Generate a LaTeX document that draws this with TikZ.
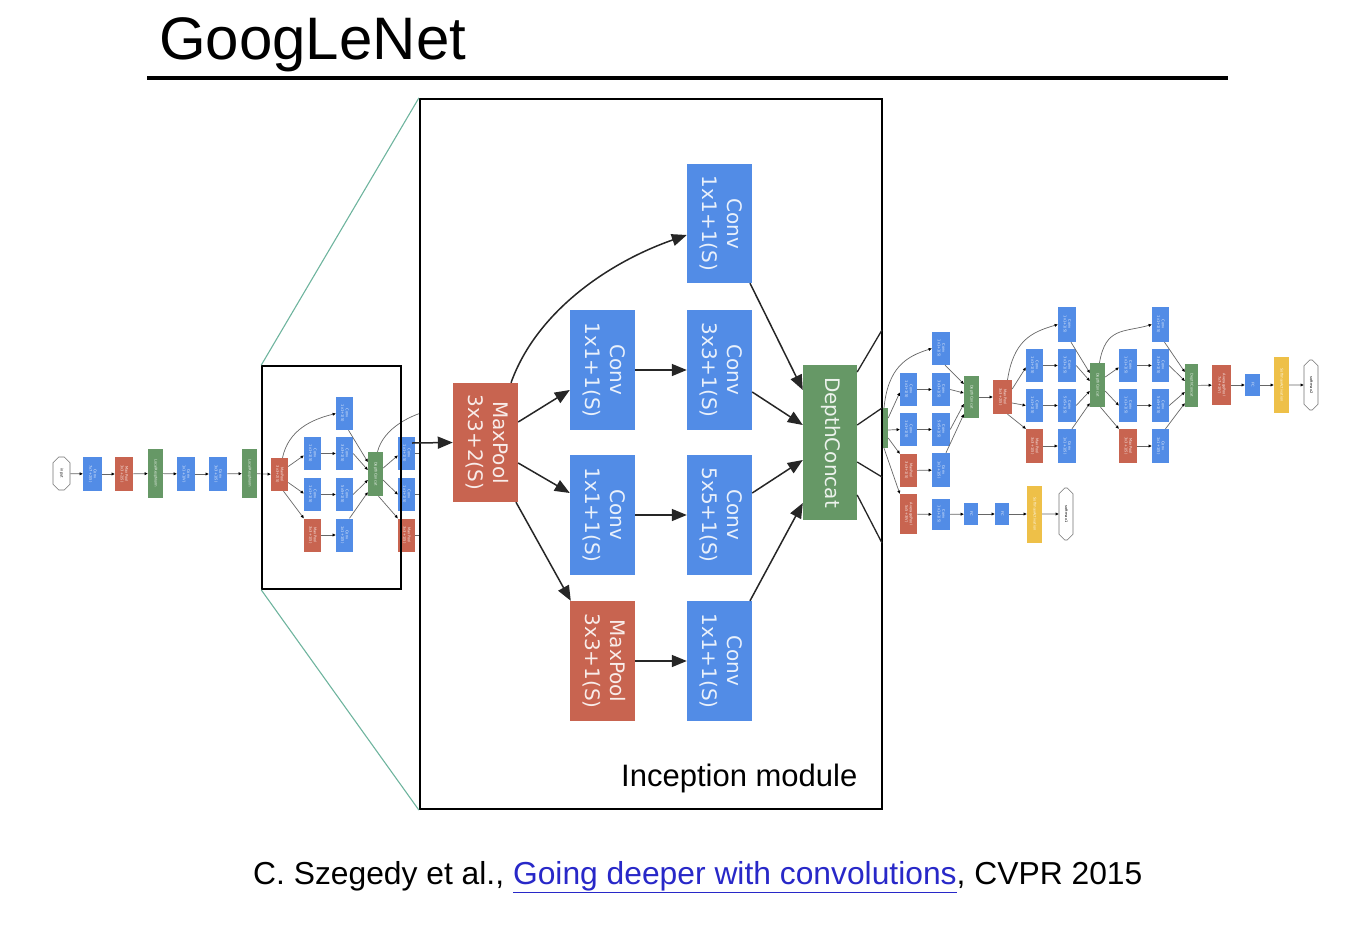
\documentclass[tikz,border=0pt]{standalone}
\usepackage{graphicx}
\usepackage{fontspec}
\setmainfont{Liberation Sans}
\newfontfamily\dvfont{DejaVu Sans}
\usetikzlibrary{arrows.meta,shapes.misc}
\definecolor{gblue}{RGB}{82,140,230}
\definecolor{gred}{RGB}{200,100,80}
\definecolor{ggreen}{RGB}{102,152,102}
\definecolor{gyellow}{RGB}{238,192,72}
\definecolor{gteal}{RGB}{110,180,158}
\definecolor{glink}{RGB}{40,40,200}
\newcommand\rtx[1]{\rotatebox{-90}{\begin{tabular}{@{}c@{}}#1\end{tabular}}}
\tikzset{
  gbox/.style={rectangle, inner sep=0pt, text=white, text opacity=0.88},
  bigbox/.style={gbox, minimum width=65pt, minimum height=119pt, font=\dvfont\fontsize{20}{25}\selectfont},
  bconv/.style={bigbox, fill=gblue},
  bpool/.style={bigbox, fill=gred},
  bconcat/.style={bigbox, fill=ggreen, minimum width=54pt, minimum height=155pt},
  sm/.style={gbox, font=\dvfont\fontsize{3.6}{4.4}\selectfont, minimum width=17pt, minimum height=33pt},
  sconv/.style={sm, fill=gblue},
  spool/.style={sm, fill=gred},
  sconcat/.style={sm, fill=ggreen, minimum width=15pt, minimum height=44pt},
  ssoft/.style={sm, fill=gyellow, minimum width=15pt, minimum height=57pt},
  sfc/.style={sm, fill=gblue, minimum width=14pt, minimum height=22pt},
  soct/.style={chamfered rectangle, chamfered rectangle xsep=3.5pt, chamfered rectangle ysep=7pt,
    draw=black!55, line width=0.6pt, fill=white, inner sep=0pt, minimum width=15pt, minimum height=50pt,
    font=\dvfont\fontsize{3.6}{4.4}\selectfont, text=black},
  sedge/.style={draw=black!60, line width=0.7pt, -{Triangle[length=3.2pt,width=2.8pt,fill=black,color=black]}},
  sline/.style={draw=black!60, line width=0.7pt},
  bedge/.style={draw=black!85, line width=1.5pt, -{Triangle[length=15pt,width=12pt]}},
  bline/.style={draw=black!85, line width=1.3pt},
  frame/.style={draw=black, rectangle, inner sep=0pt},
  zoomline/.style={draw=gteal, line width=1.1pt},
}
\begin{document}
\begin{tikzpicture}[x=1pt,y=-1pt]
\useasboundingbox (0,0) rectangle (1358,932);

% title and rule
\node[anchor=base west, inner sep=0pt, font=\fontsize{60}{66}\selectfont] (title) at (159,59) {GoogLeNet};
\coordinate (rl) at (147,78);
\coordinate (rr) at (1228,78);
\draw[line width=4.5pt] (rl) -- (rr);

% ---------- left chain ----------
\node[soct, minimum width=17pt, minimum height=33pt, chamfered rectangle ysep=5pt] (in0) at (61.5,473.5) {\rtx{input}};
\node[sconv, minimum width=19pt, minimum height=34pt] (L1) at (92.5,474) {\rtx{Conv\\7x7+2(S)}};
\node[spool, minimum width=18pt, minimum height=34pt] (L2) at (124,474) {\rtx{MaxPool\\3x3+2(S)}};
\node[sconcat, minimum height=49pt] (L3) at (155.5,473.5) {\rtx{LocalRespNorm}};
\node[sconv, minimum width=18pt, minimum height=34pt] (L4) at (186,474) {\rtx{Conv\\1x1+1(V)}};
\node[sconv, minimum width=18pt, minimum height=34pt] (L5) at (218,474) {\rtx{Conv\\3x3+1(S)}};
\node[sconcat, minimum height=49pt] (L6) at (249.5,473.5) {\rtx{LocalRespNorm}};
\node[spool] (L7) at (279.5,474.5) {\rtx{MaxPool\\3x3+2(S)}};
\draw[sedge] (in0) -- (L1);
\draw[sedge] (L1) -- (L2);
\draw[sedge] (L2) -- (L3);
\draw[sedge] (L3) -- (L4);
\draw[sedge] (L4) -- (L5);
\draw[sedge] (L5) -- (L6);
\draw[sedge] (L6) -- (L7);

% ---------- small inception (in small box) ----------
\node[sconv] (a1) at (344.5,413.5) {\rtx{Conv\\1x1+1(S)}};
\node[sconv] (a2) at (312.5,453.5) {\rtx{Conv\\1x1+1(S)}};
\node[sconv] (a3) at (344.5,453.5) {\rtx{Conv\\3x3+1(S)}};
\node[sconv] (a4) at (312.5,494.5) {\rtx{Conv\\1x1+1(S)}};
\node[sconv] (a5) at (344.5,494.5) {\rtx{Conv\\5x5+1(S)}};
\node[spool] (a6) at (312.5,535) {\rtx{MaxPool\\3x3+1(S)}};
\node[sconv] (a7) at (344.5,535) {\rtx{Conv\\1x1+1(S)}};
\node[sconcat] (adc) at (375.5,474) {\rtx{DepthConcat}};
\node[sconv] (b2) at (406.5,453.5) {\rtx{Conv\\1x1+1(S)}};
\node[sconv] (b4) at (406.5,494.5) {\rtx{Conv\\1x1+1(S)}};
\node[spool] (b6) at (406.5,535) {\rtx{MaxPool\\3x3+1(S)}};
\draw[sedge] ([xshift=3pt]L7.north) .. controls +(6,-28) and +(-24,6) .. (a1.west);
\draw[sedge] ([yshift=8pt]L7.east) -- ([yshift=-2pt]a2.west);
\draw[sedge] ([yshift=-8pt]L7.east) -- ([yshift=1pt]a4.west);
\draw[sedge] ([xshift=4pt]L7.south) -- (a6.north west);
\draw[sedge] (a2) -- (a3);
\draw[sedge] (a4) -- (a5);
\draw[sedge] (a6) -- (a7);
\draw[sedge] ([xshift=4pt]a1.south) -- ([yshift=12pt]adc.west);
\draw[sedge] (a3.east) -- ([yshift=4pt]adc.west);
\draw[sedge] (a5.east) -- ([yshift=-6pt]adc.west);
\draw[sedge] ([xshift=5pt]a7.north) -- ([yshift=4pt]adc.south west);
\coordinate (ah) at (432,410);
\draw[sline] ([xshift=2pt]adc.north) .. controls +(6,-24) and +(-20,4) .. (ah);
\draw[sedge] ([yshift=6pt]adc.east) -- ([yshift=-2pt]b2.west);
\draw[sedge] ([yshift=-6pt]adc.east) -- (b4.west);
\draw[sedge] ([xshift=3pt]adc.south) -- (b6.north west);
\coordinate (bh2) at (430,453.5);
\coordinate (bh4) at (430,494.5);
\coordinate (bh6) at (430,535);
\draw[sline] (b2.east) -- (bh2);
\draw[sline] (b4.east) -- (bh4);
\draw[sline] (b6.east) -- (bh6);

% ---------- right network ----------
\node[sconcat, minimum width=16pt, minimum height=40pt] (h0) at (880,428) {};
\node[sconv, minimum width=18pt, minimum height=33pt] (r1) at (941,348.5) {\rtx{Conv\\1x1+1(S)}};
\node[sconv] (r2) at (908.5,389.5) {\rtx{Conv\\1x1+1(S)}};
\node[sconv, minimum width=18pt] (r3) at (941,389.5) {\rtx{Conv\\3x3+1(S)}};
\node[sconv] (r4) at (908.5,429.5) {\rtx{Conv\\1x1+1(S)}};
\node[sconv, minimum width=18pt] (r5) at (941,429.5) {\rtx{Conv\\5x5+1(S)}};
\node[spool] (r6) at (908.5,470.5) {\rtx{MaxPool\\3x3+1(S)}};
\node[sconv, minimum width=18pt, minimum height=34pt] (r7) at (941,470) {\rtx{Conv\\1x1+1(S)}};
\node[spool, minimum height=40pt] (rap) at (908.5,514) {\rtx{AveragePool\\5x5+3(V)}};
\node[sconv, minimum width=18pt, minimum height=31pt] (rac) at (941,514.5) {\rtx{Conv\\1x1+1(S)}};
\node[sfc] (rf1) at (971,514) {\rtx{FC}};
\node[sfc] (rf2) at (1002,514) {\rtx{FC}};
\node[ssoft] (rsa) at (1034.5,514) {\rtx{SoftmaxActivation}};
\node[soct, minimum width=14pt, minimum height=52pt] (rs1) at (1066,514) {\rtx{softmax1}};
\node[sconcat, minimum height=42pt] (rdc) at (971.5,397) {\rtx{DepthConcat}};
\node[spool, minimum width=19pt, minimum height=34pt] (rmp) at (1002.5,397) {\rtx{MaxPool\\3x3+2(S)}};
\draw[sedge] ([xshift=4pt]h0.north) .. controls +(4,-40) and +(-26,8) .. (r1.west);
\draw[sedge] ([yshift=10pt]h0.east) -- ([yshift=-3pt]r2.west);
\draw[sedge] ([yshift=-2pt]h0.east) -- (r4.west);
\draw[sedge] ([yshift=-10pt]h0.east) -- (r6.north west);
\draw[sedge] ([xshift=4pt]h0.south) -- (rap.north west);
\draw[sedge] (r2) -- (r3);
\draw[sedge] (r4) -- (r5);
\draw[sedge] (r6) -- (r7);
\draw[sedge] ([xshift=4pt]r1.south) -- ([yshift=13pt]rdc.west);
\draw[sedge] (r3.east) -- ([yshift=4pt]rdc.west);
\draw[sedge] (r5.east) -- ([yshift=-7pt]rdc.west);
\draw[sedge] ([xshift=5pt]r7.north) -- ([yshift=4pt]rdc.south west);
\draw[sedge] (rdc) -- (rmp);
\draw[sedge] (rap) -- (rac);
\draw[sedge] (rac) -- (rf1);
\draw[sedge] (rf1) -- (rf2);
\draw[sedge] (rf2) -- (rsa);
\draw[sedge] (rsa) -- (rs1);

% inception 2
\node[sconv, minimum width=18pt, minimum height=35pt] (p1) at (1067,324.5) {\rtx{Conv\\1x1+1(S)}};
\node[sconv] (p2) at (1034.5,365.5) {\rtx{Conv\\1x1+1(S)}};
\node[sconv, minimum width=18pt] (p3) at (1067,365.5) {\rtx{Conv\\3x3+1(S)}};
\node[sconv] (p4) at (1034.5,405.5) {\rtx{Conv\\1x1+1(S)}};
\node[sconv, minimum width=18pt] (p5) at (1067,405.5) {\rtx{Conv\\5x5+1(S)}};
\node[spool, minimum height=34pt] (p6) at (1034.5,446) {\rtx{MaxPool\\3x3+1(S)}};
\node[sconv, minimum width=18pt, minimum height=34pt] (p7) at (1067,446) {\rtx{Conv\\1x1+1(S)}};
\node[sconcat] (pdc) at (1097.5,385) {\rtx{DepthConcat}};
\draw[sedge] ([xshift=5pt]rmp.north) .. controls +(6,-38) and +(-28,8) .. (p1.west);
\draw[sedge] ([yshift=8pt]rmp.east) -- ([yshift=-2pt]p2.west);
\draw[sedge] ([yshift=-6pt]rmp.east) -- (p4.west);
\draw[sedge] ([xshift=5pt]rmp.south) -- (p6.north west);
\draw[sedge] (p2) -- (p3);
\draw[sedge] (p4) -- (p5);
\draw[sedge] (p6) -- (p7);
\draw[sedge] ([xshift=4pt]p1.south) -- ([yshift=12pt]pdc.west);
\draw[sedge] (p3.east) -- ([yshift=4pt]pdc.west);
\draw[sedge] (p5.east) -- ([yshift=-6pt]pdc.west);
\draw[sedge] ([xshift=5pt]p7.north) -- ([yshift=4pt]pdc.south west);

% inception 3
\node[sconv, minimum height=35pt] (q1) at (1160.5,324.5) {\rtx{Conv\\1x1+1(S)}};
\node[sconv, minimum width=18pt] (q2) at (1128,365.5) {\rtx{Conv\\1x1+1(S)}};
\node[sconv] (q3) at (1160.5,365.5) {\rtx{Conv\\3x3+1(S)}};
\node[sconv, minimum width=18pt] (q4) at (1128,405.5) {\rtx{Conv\\1x1+1(S)}};
\node[sconv] (q5) at (1160.5,405.5) {\rtx{Conv\\5x5+1(S)}};
\node[spool, minimum width=18pt, minimum height=34pt] (q6) at (1128,446) {\rtx{MaxPool\\3x3+1(S)}};
\node[sconv, minimum height=34pt] (q7) at (1160.5,446) {\rtx{Conv\\1x1+1(S)}};
\node[sconcat, minimum width=13pt, minimum height=43pt] (qdc) at (1191.5,385.5) {\rtx{DepthConcat}};
\node[spool, minimum width=19pt, minimum height=40pt] (qap) at (1221.5,385) {\rtx{AveragePool\\7x7+1(V)}};
\node[sfc, minimum width=15pt] (qfc) at (1252.5,385) {\rtx{FC}};
\node[ssoft, minimum height=56pt] (qsa) at (1281.5,385) {\rtx{SoftmaxActivation}};
\node[soct, minimum width=14pt, minimum height=50pt] (qs2) at (1311,385) {\rtx{softmax2}};
\draw[sedge] ([xshift=2pt]pdc.north) .. controls +(6,-36) and +(-28,8) .. (q1.west);
\draw[sedge] ([yshift=8pt]pdc.east) -- ([yshift=-2pt]q2.west);
\draw[sedge] ([yshift=-6pt]pdc.east) -- (q4.west);
\draw[sedge] ([xshift=3pt]pdc.south) -- (q6.north west);
\draw[sedge] (q2) -- (q3);
\draw[sedge] (q4) -- (q5);
\draw[sedge] (q6) -- (q7);
\draw[sedge] ([xshift=4pt]q1.south) -- ([yshift=13.5pt]qdc.west);
\draw[sedge] (q3.east) -- ([yshift=4.5pt]qdc.west);
\draw[sedge] (q5.east) -- ([yshift=-6.5pt]qdc.west);
\draw[sedge] ([xshift=5pt]q7.north) -- ([yshift=4pt]qdc.south west);
\draw[sedge] (qdc) -- (qap);
\draw[sedge] (qap) -- (qfc);
\draw[sedge] (qfc) -- (qsa);
\draw[sedge] (qsa) -- (qs2);

% ---------- frames ----------
\node[frame, line width=1.6pt, minimum width=139pt, minimum height=223pt] (sbox) at (331.5,477.5) {};
\node[frame, line width=2.2pt, fill=white, minimum width=462pt, minimum height=710pt] (bbox) at (651,454) {};
\draw[zoomline] (sbox.north west) -- (bbox.north west);
\draw[zoomline] (sbox.south west) -- (bbox.south west);

% ---------- inception module (enlarged) ----------
\node[bpool] (mp1) at (485.5,442.5) {\rtx{MaxPool\\3x3+2(S)}};
\node[bconv] (c1) at (719.5,223.5) {\rtx{Conv\\1x1+1(S)}};
\node[bconv, minimum height=120pt] (c2) at (602.5,370) {\rtx{Conv\\1x1+1(S)}};
\node[bconv, minimum height=120pt] (c3) at (719.5,370) {\rtx{Conv\\3x3+1(S)}};
\node[bconv, minimum height=120pt] (c4) at (602.5,515) {\rtx{Conv\\1x1+1(S)}};
\node[bconv, minimum height=120pt] (c5) at (719.5,515) {\rtx{Conv\\5x5+1(S)}};
\node[bpool, minimum height=120pt] (mp2) at (602.5,661) {\rtx{MaxPool\\3x3+1(S)}};
\node[bconv, minimum height=120pt] (c6) at (719.5,661) {\rtx{Conv\\1x1+1(S)}};
\node[bconcat] (dc) at (830,442.5) {\rtx{DepthConcat}};

\coordinate (inp) at (412,443);
\draw[bedge] (inp) -- (mp1.west);
\draw[bedge] ([xshift=25.5pt]mp1.north) .. controls +(25,-70) and +(-80,28) .. ([yshift=-11.5pt]c1.west);
\draw[bedge] ([yshift=20.5pt]mp1.east) -- ([yshift=-20pt]c2.west);
\draw[bedge] ([yshift=-20.5pt]mp1.east) -- ([yshift=22pt]c4.west);
\draw[bedge] ([xshift=30.5pt]mp1.south) -- ([xshift=1pt]mp2.north west);
\draw[bedge] (c2) -- (c3);
\draw[bedge] (c4) -- (c5);
\draw[bedge] (mp2) -- (c6);
\draw[bedge] ([xshift=30.5pt]c1.south) -- ([yshift=52.5pt]dc.west);
\draw[bedge] ([yshift=-22pt]c3.east) -- ([yshift=17.5pt]dc.west);
\draw[bedge] ([yshift=22pt]c5.east) -- ([yshift=-17.5pt]dc.west);
\draw[bedge] ([xshift=30.5pt]c6.north) -- ([yshift=-60.5pt]dc.west);

\coordinate (o1) at (882,330);
\coordinate (o2) at (882,408);
\coordinate (o3) at (882,477);
\coordinate (o4) at (882,543);
\draw[bline] ([yshift=70.5pt]dc.east) -- (o1);
\draw[bline] ([yshift=17.5pt]dc.east) -- (o2);
\draw[bline] ([yshift=-19.5pt]dc.east) -- (o3);
\draw[bline] ([yshift=-52.5pt]dc.east) -- (o4);

\node[anchor=base west, inner sep=0pt, font=\fontsize{31}{35}\selectfont] (imod) at (621,786) {Inception module};

% ---------- citation ----------
\node[anchor=base west, inner sep=0pt, font=\fontsize{31.8}{36}\selectfont] (cite) at (253,884)
  {C. Szegedy et al., \textcolor{glink}{\underline{Going deeper with convolutions}}, CVPR 2015};
\end{tikzpicture}
\end{document}
